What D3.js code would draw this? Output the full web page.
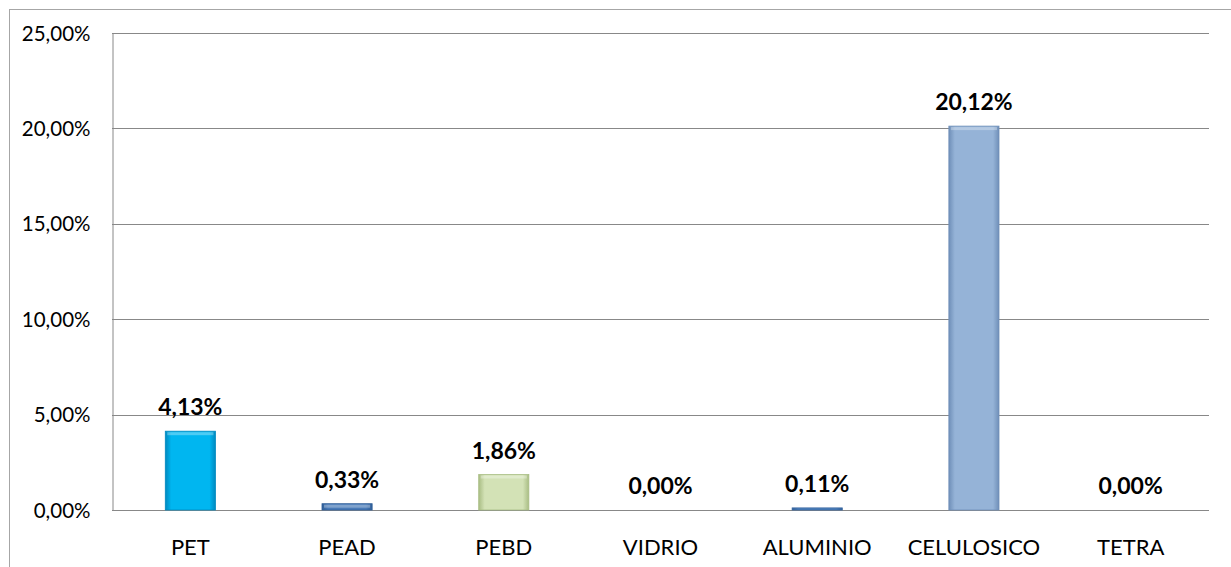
<!DOCTYPE html>
<html>
<head>
<meta charset="utf-8">
<script src="https://cdn.jsdelivr.net/npm/d3@7"></script>
<style>
  body { margin: 0; background: #fff; }
  svg text { font-family: Lato, "Open Sans", sans-serif; fill: #000; }
</style>
</head>
<body>
<div id="holder"></div>
<script>
// data
var categories = ["PET", "PEAD", "PEBD", "VIDRIO", "ALUMINIO", "CELULOSICO", "TETRA"];
var values = [4.13, 0.33, 1.86, 0.00, 0.11, 20.12, 0.00];
var yTicks = [0, 5, 10, 15, 20, 25];
var barColors = ["#00b6f0", "#4a7bb8", "#d3e2b6", "#4f81bd", "#4f81bd", "#95b3d7", "#4f81bd"];
var edgeColors = ["#0089bf", "#2f5e98", "#a9bd84", "#34639d", "#34639d", "#6f8fb8", "#34639d"];

var fullWidth = 1231;
var fullHeight = 567;
var plot = {left: 112, right: 1209, top: 33, bottom: 510};

var svg = d3.select('#holder').append('svg')
  .attr('width', fullWidth)
  .attr('height', fullHeight);

// outer chart border (runs off the right and bottom)
svg.append('rect')
  .attr('x', 9.5).attr('y', 9.5)
  .attr('width', 1240).attr('height', 600)
  .attr('fill', 'none')
  .attr('stroke', '#a6a6a6');

var xScale = d3.scaleBand()
  .domain(categories)
  .range([plot.left, plot.right])
  .paddingInner(0.68)
  .paddingOuter(0.34);

var yScale = d3.scaleLinear()
  .domain([0, 25])
  .range([plot.bottom, plot.top]);

function pct(v) { return d3.format(".2f")(v).replace(".", ",") + "%"; }

// gridlines
svg.append('g').selectAll('line')
  .data(yTicks)
  .enter().append('line')
  .attr('x1', plot.left).attr('x2', plot.right)
  .attr('y1', function(d) { return Math.round(yScale(d)) + 0.5; })
  .attr('y2', function(d) { return Math.round(yScale(d)) + 0.5; })
  .attr('stroke', '#888');

// y axis
var y_axis = d3.axisLeft(yScale).tickValues(yTicks).tickFormat(pct).tickSize(0).tickPadding(22);
var yg = svg.append('g')
  .attr('transform', 'translate(' + (plot.left + 0.5) + ',0.5)')
  .call(y_axis);
yg.select('.domain').attr('stroke', '#888');
yg.selectAll('text').style('font-size', '20.5px').style('font-family', 'Lato, sans-serif');

// gradients for the bevel look
var defs = svg.append('defs');
categories.forEach(function(c, i) {
  var g = defs.append('linearGradient').attr('id', 'grad' + i)
    .attr('x1', '0').attr('x2', '1').attr('y1', '0').attr('y2', '0');
  g.append('stop').attr('offset', '0%').attr('stop-color', edgeColors[i]);
  g.append('stop').attr('offset', '12%').attr('stop-color', barColors[i]);
  g.append('stop').attr('offset', '88%').attr('stop-color', barColors[i]);
  g.append('stop').attr('offset', '100%').attr('stop-color', edgeColors[i]);
});

var data = categories.map(function(c, i) { return {name: c, value: values[i], i: i}; });

var bars = svg.append('g').attr('class', 'bar-holder');
bars.selectAll('.bar')
  .data(data.filter(function(d) { return d.value > 0; }))
  .enter().append('rect')
  .attr('class', 'bar')
  .attr('x', function(d) { return xScale(d.name); })
  .attr('y', function(d) { return yScale(d.value); })
  .attr('width', xScale.bandwidth())
  .attr('height', function(d) { return plot.bottom - yScale(d.value); })
  .attr('fill', function(d) { return 'url(#grad' + d.i + ')'; })
  .attr('stroke', function(d) { return edgeColors[d.i]; })
  .attr('stroke-width', 0.8);

// top highlight strip
bars.selectAll('.hl')
  .data(data.filter(function(d) { return plot.bottom - yScale(d.value) > 6; }))
  .enter().append('rect')
  .attr('x', function(d) { return xScale(d.name) + 2; })
  .attr('y', function(d) { return yScale(d.value) + 1; })
  .attr('width', xScale.bandwidth() - 4)
  .attr('height', 3)
  .attr('fill', '#fff')
  .attr('opacity', 0.3);

// value labels
svg.append('g').selectAll('text')
  .data(data)
  .enter().append('text')
  .attr('x', function(d) { return xScale(d.name) + xScale.bandwidth() / 2; })
  .attr('y', function(d) { return yScale(d.value) - 16; })
  .attr('text-anchor', 'middle')
  .style('font-size', '23px')
  .style('font-weight', 'bold')
  .text(function(d) { return pct(d.value); });

// category labels
svg.append('g').selectAll('text')
  .data(categories)
  .enter().append('text')
  .attr('x', function(d) { return xScale(d) + xScale.bandwidth() / 2; })
  .attr('y', 555)
  .attr('text-anchor', 'middle')
  .style('font-size', '22px')
  .text(function(d) { return d; });
</script>
</body>
</html>
